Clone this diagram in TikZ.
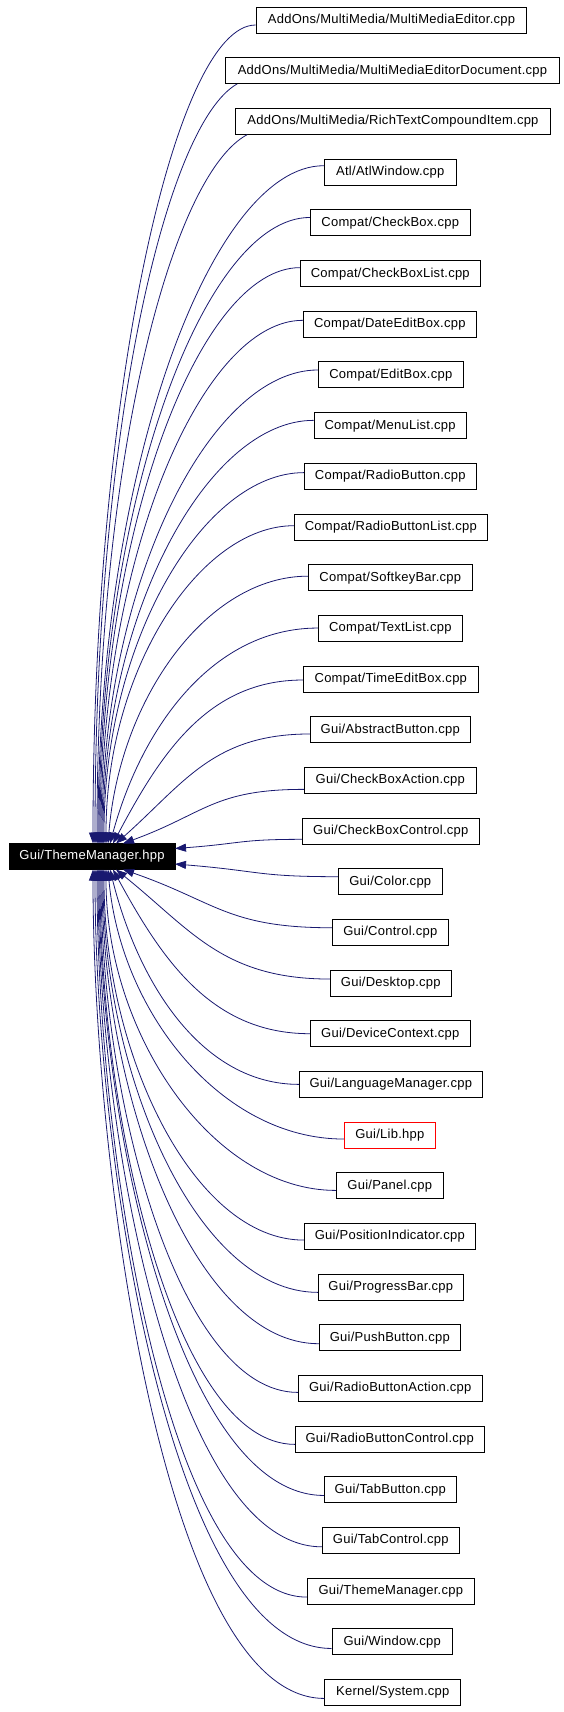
\documentclass[tikz,border=0pt]{standalone}
\usepackage{fontspec}
\setmainfont[LetterSpace=2]{Liberation Sans}
\usetikzlibrary{arrows.meta,calc}
\definecolor{edgeblue}{RGB}{25,25,112}
\begin{document}
\begin{tikzpicture}[x=1pt,y=-1pt,
  box/.style={draw=black, line width=1pt, minimum height=26pt, inner sep=0pt,
    font=\fontsize{13}{15}\selectfont, text=black, fill=white},
  mainbox/.style={draw=black, fill=black, line width=1pt, minimum height=26pt,
    minimum width=166pt, inner sep=0pt, font=\fontsize{13}{15}\selectfont, text=white},
  edge/.style={draw=edgeblue, line width=0.8pt, -{Triangle[length=11pt,width=8pt]}}
]
\useasboundingbox (0,0) rectangle (563,1712);
\node[mainbox] (main) at (92,856.5) {Gui/ThemeManager.hpp};
\foreach \i/\xw/\xe/\sx/\sy/\ex/\ey/\col/\lab in {
 1/256.2/526.9/0/4.7/93/843.5/black/{AddOns/MultiMedia/MultiMediaEditor.cpp},
 2/225.6/559.4/12/13/95/843.5/black/{AddOns/MultiMedia/MultiMediaEditorDocument.cpp},
 3/235.7/550.3/12/13/97/843.5/black/{AddOns/MultiMedia/RichTextCompoundItem.cpp},
 4/324.3/456.3/0/-6.6/98/843.5/black/{Atl/AtlWindow.cpp},
 5/310.3/470.3/0/-5.5/99/843.5/black/{Compat/CheckBox.cpp},
 6/300.3/480.3/0/-6/100/843.5/black/{Compat/CheckBoxList.cpp},
 7/303.3/476.3/0/-4/101/843.5/black/{Compat/DateEditBox.cpp},
 8/318.3/463.3/0/-5/102/843.5/black/{Compat/EditBox.cpp},
 9/314/466.3/0/-5.3/103/843.5/black/{Compat/MenuList.cpp},
 10/304.3/476.3/0/-3.7/104/843.5/black/{Compat/RadioButton.cpp},
 11/294.3/487.3/0/-1.3/106/843.5/black/{Compat/RadioButtonList.cpp},
 12/308.3/472.3/0/-1.5/108/843.5/black/{Compat/SoftkeyBar.cpp},
 13/318.3/462.3/0/-0.3/110/843.5/black/{Compat/TextList.cpp},
 14/303.3/478.3/0/1/113/843.5/black/{Compat/TimeEditBox.cpp},
 15/310.3/470.3/0/4.3/116/843.5/black/{Gui/AbstractButton.cpp},
 16/304.3/476.3/0/9/123/843.5/black/{Gui/CheckBoxAction.cpp},
 17/302.3/479.3/0/8.3/175/848.5/black/{Gui/CheckBoxControl.cpp},
 18/338.3/442.3/0/-5/175/864/black/{Gui/Color.cpp},
 19/332.3/448.3/0/-4.6/123/869.5/black/{Gui/Control.cpp},
 20/330.3/451.3/0/-4/116/869.5/black/{Gui/Desktop.cpp},
 21/310.3/470.3/0/0/113/869.5/black/{Gui/DeviceContext.cpp},
 22/299.3/482.3/0/0/110/869.5/black/{Gui/LanguageManager.cpp},
 23/344.3/435.3/0/4/108/869.5/red/{Gui/Lib.hpp},
 24/336.3/443.3/0/4.7/106/869.5/black/{Gui/Panel.cpp},
 25/304.3/475.3/0/3.7/104/869.5/black/{Gui/PositionIndicator.cpp},
 26/318.3/463.3/0/5.3/103/869.5/black/{Gui/ProgressBar.cpp},
 27/319.3/460.3/0/6/102/869.5/black/{Gui/PushButton.cpp},
 28/298.3/482.3/0/4/101/869.5/black/{Gui/RadioButtonAction.cpp},
 29/295.3/484.3/0/5.3/100/869.5/black/{Gui/RadioButtonControl.cpp},
 30/324.3/456.3/0/5.7/99/869.5/black/{Gui/TabButton.cpp},
 31/322.3/459.3/0/6.4/98/869.5/black/{Gui/TabControl.cpp},
 32/307.3/474.3/0/6/97/869.5/black/{Gui/ThemeManager.cpp},
 33/332/452.5/0/6.7/95/869.5/black/{Gui/Window.cpp},
 34/324.8/460.8/0/6/93/869.5/black/{Kernel/System.cpp}}{
 \pgfmathsetmacro{\yc}{20.3+(\i-1)*50.67}
 \pgfmathsetmacro{\xc}{(\xw+\xe)/2}
 \pgfmathsetmacro{\wdt}{\xe-\xw}
 \node[box, draw=\col, minimum width=\wdt pt] (n\i) at (\xc,\yc) {\lab};
 \pgfmathsetmacro{\xs}{\xw+\sx}
 \pgfmathsetmacro{\ys}{\yc+\sy}
 \pgfmathsetmacro{\ddx}{\xs-\ex}
 \pgfmathsetmacro{\ddy}{\ey-\ys}
 \pgfmathsetmacro{\ady}{abs(\ddy)}
 \pgfmathsetmacro{\ww}{max(0,1-\ady/300)}
 \pgfmathsetmacro{\ff}{(\i>19)*max(0,(\ady-200)/630)}
 \pgfmathsetmacro{\ka}{0.5+0.2*\ff}
 \pgfmathsetmacro{\kc}{0.55-0.2*\ff}
 \pgfmathsetmacro{\pax}{\xs-\ka*\ddx}
 \pgfmathsetmacro{\pay}{\ys+(\sx>0)*40}
 \pgfmathsetmacro{\pbx}{\ex+\kc*\ww*\ddx}
 \pgfmathsetmacro{\pby}{\ey-\kc*\ddy}
 \draw[edge] ($(n\i.west)+(\sx,\sy)$) .. controls (\pax,\pay) and (\pbx,\pby) .. ($(main.center)+(\ex-92,\ey-856.5)$);
}
\end{tikzpicture}
\end{document}
